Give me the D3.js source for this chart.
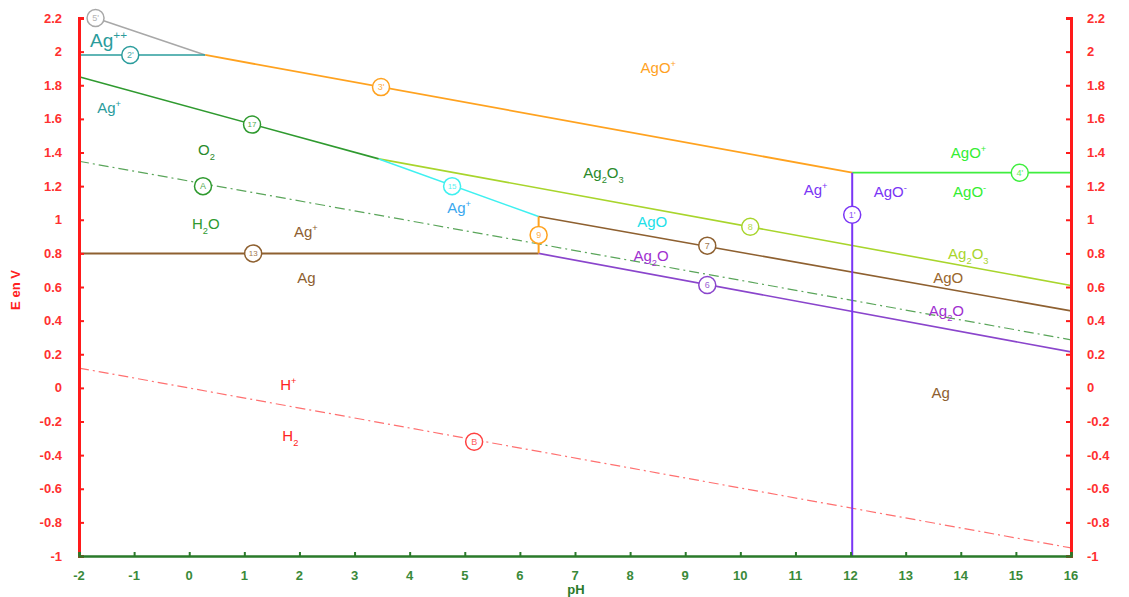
<!DOCTYPE html>
<html><head><meta charset="utf-8">
<script src="https://cdn.jsdelivr.net/npm/d3@7"></script>
<style>body{margin:0;background:#fff} svg{display:block;font-family:"Liberation Sans",Arial,sans-serif}</style>
</head><body><svg id="c" width="1129" height="597"></svg>
<script>
// ---- data ----
const xTicks = [-2,-1,0,1,2,3,4,5,6,7,8,9,10,11,12,13,14,15,16];
const yTicks = [-1,-0.8,-0.6,-0.4,-0.2,0,0.2,0.4,0.6,0.8,1,1.2,1.4,1.6,1.8,2,2.2];
const yTickLabels = ["-1","-0.8","-0.6","-0.4","-0.2","0","0.2","0.4","0.6","0.8","1","1.2","1.4","1.6","1.8","2","2.2"];
const xTickLabels = ["-2","-1","0","1","2","3","4","5","6","7","8","9","10","11","12","13","14","15","16"];
// boundary lines, points [pH, E]
const line5p = [[-1.7,2.2],[0.29,1.98]];
const line2p = [[-2,1.98],[0.29,1.98]];
const line3p = [[0.29,1.98],[12.03,1.28]];
const line4p = [[12.03,1.28],[16,1.28]];
const line1p = [[12.03,1.28],[12.03,-1]];
const line17 = [[-2,1.85],[3.44,1.362]];
const line8  = [[3.44,1.362],[16,0.609]];
const line15 = [[3.44,1.362],[6.34,1.019]];
const line9  = [[6.34,1.019],[6.34,0.8]];
const line13 = [[-2,0.8],[6.34,0.8]];
const line7  = [[6.34,1.019],[16,0.458]];
const line6  = [[6.34,0.8],[16,0.214]];
const lineA  = [[-2,1.348],[16,0.286]];
const lineB  = [[-2,0.118],[16,-0.952]];
// markers: label, pH, E
const markerNames = ["5'","2'","3'","4'","1'","17","15","9","13","8","7","6","A","B"];
const markerPH    = [-1.7,-1.07,3.48,15.07,12.03,1.14,4.77,6.34,1.16,10.18,9.4,9.4,0.25,5.17];
const markerE     = [2.2,1.98,1.789,1.28,1.03,1.566,1.2,0.91,0.8,0.958,0.846,0.612,1.2,-0.32];
// region labels: text, pH, E
const regionText = ["Ag^{++}","Ag^{+}","O_2","H_2O","Ag^{+}","Ag","AgO^{+}","Ag_2O_3","Ag^{+}","AgO","Ag_2O","Ag^{+}","AgO^{-}","AgO^{+}","AgO^{-}","Ag_2O_3","AgO","Ag_2O","Ag","H^{+}","H_2"];
const regionPH   = [-1.8,-1.67,0.16,0.05,1.9,1.96,8.19,7.15,4.68,8.13,8.06,11.15,12.42,13.82,13.86,13.77,13.5,13.42,13.47,1.65,1.69];
const regionE    = [2.07,1.665,1.416,0.976,0.928,0.654,1.904,1.279,1.071,0.988,0.785,1.178,1.166,1.398,1.166,0.797,0.654,0.458,-0.03,0.018,-0.286];

// ---- styles ----
const C = {teal:"#2a9c9c",gray:"#a8a8a8",orange:"#ffa21f",lime:"#3fee3f",violet:"#7a35f5",
  green:"#2f9a2f",yg:"#a8d52c",cyan:"#3ff0f0",brown:"#8e6030",purple:"#8a45cc",water:"#5aa55a",red:"#ff7070"};
const lineStyles = [
  [line5p,C.gray,1.5,null],[line2p,C.teal,1.5,null],[line3p,C.orange,1.8,null],[line4p,C.lime,1.8,null],
  [line17,C.green,1.6,null],[line8,C.yg,1.6,null],[line15,C.cyan,1.6,null],
  [line13,C.brown,2,null],[line7,C.brown,1.6,null],[line6,C.purple,1.6,null],
  [lineA,C.water,1.2,"10,4,2,4"],[lineB,C.red,1.2,"10,4,2,4"],[line9,C.orange,2,null],[line1p,C.violet,2,null]];
const markerColors = [C.gray,C.teal,C.orange,C.lime,C.violet,C.green,C.cyan,C.orange,C.brown,C.yg,C.brown,C.purple,C.green,"#ff4040"];
const regionColors = [C.teal,C.teal,"#2a8a2a","#2f9a2f",C.brown,C.brown,C.orange,"#2a8a2a","#3aa8ee","#22e0e8",
  "#a030d0","#7a35f5","#7a35f5","#33ee33","#33ee33",C.yg,"#99662e","#a030d0",C.brown,"#ff2222","#ff2222"];
const regionSizes = [19,15,15,15,15,15,15,15,15,15,15,15,15,15,15,15,15,15,15,15,15];

// ---- chart ----
const svg = d3.select("#c");
const x = d3.scaleLinear().domain([-2,16]).range([79,1071]);
const y = d3.scaleLinear().domain([-1,2.2]).range([556,18]);
const axisRed = "#ff1a1a";

// lines
const lg = d3.line().x(d=>x(d[0])).y(d=>y(d[1]));
lineStyles.forEach(([pts,col,w,dash])=>{
  svg.append("path").attr("d",lg(pts)).attr("fill","none").attr("stroke",col)
    .attr("stroke-width",w).attr("stroke-dasharray",dash);
});

// axes
const gL = svg.append("g").attr("transform","translate(79,0)")
  .call(d3.axisRight(y).tickValues(yTicks).tickSize(5).tickFormat(()=>""));
const gR = svg.append("g").attr("transform","translate(1071,0)")
  .call(d3.axisLeft(y).tickValues(yTicks).tickSize(5).tickFormat(()=>""));
[gL,gR].forEach(g=>{
  g.select(".domain").attr("stroke",axisRed).attr("stroke-width",3);
  g.selectAll(".tick line").attr("stroke",axisRed).attr("stroke-width",2);
});
svg.append("g").selectAll("text").data(yTicks).join("text")
  .attr("x",62).attr("y",d=>y(d)).attr("dy","0.35em").attr("text-anchor","end")
  .attr("fill","#ff3030").attr("font-size",13).attr("font-weight","bold").text((d,i)=>yTickLabels[i]);
svg.append("g").selectAll("text").data(yTicks).join("text")
  .attr("x",1087).attr("y",d=>y(d)).attr("dy","0.35em").attr("text-anchor","start")
  .attr("fill","#ff3030").attr("font-size",13).attr("font-weight","bold").text((d,i)=>yTickLabels[i]);

const gB = svg.append("g").attr("transform","translate(0,556)")
  .call(d3.axisTop(x).tickValues(xTicks).tickSize(4).tickFormat(()=>""));
gB.select(".domain").attr("stroke","#2a7a2a").attr("stroke-width",2.5);
gB.selectAll(".tick line").attr("stroke","#2a7a2a").attr("stroke-width",2);
svg.append("g").selectAll("text").data(xTicks).join("text")
  .attr("x",d=>x(d)).attr("y",575).attr("dy","0.35em").attr("text-anchor","middle")
  .attr("fill","#3a8a3a").attr("font-size",13).attr("font-weight","bold").text((d,i)=>xTickLabels[i]);
svg.append("text").attr("x",576).attr("y",589).attr("dy","0.35em").attr("text-anchor","middle")
  .attr("fill","#2a7a2a").attr("font-size",13).attr("font-weight","bold").text("pH");
svg.append("text").attr("transform","translate(15,290) rotate(-90)").attr("dy","0.35em")
  .attr("text-anchor","middle").attr("fill","#ff2020").attr("font-size",13).attr("font-weight","bold").text("E en V");

// markers
markerNames.forEach((n,i)=>{
  const g = svg.append("g").attr("transform",`translate(${x(markerPH[i])},${y(markerE[i])})`);
  g.append("circle").attr("r",8.5).attr("fill","#fff").attr("stroke",markerColors[i]).attr("stroke-width",1.5);
  g.append("text").attr("text-anchor","middle").attr("dy","0.35em").attr("font-size",n.length>1&&n[1]!=="'"?8:9)
    .attr("fill",markerColors[i]).attr("opacity",0.85).text(n);
});

// region labels with sub/superscripts
function richText(sel, str, size){
  const re = /([_^])\{([^}]*)\}|([_^])(.)|([^_^]+)/g;
  let m, shift = 0;
  while((m = re.exec(str))){
    if(m[5]){
      sel.append("tspan").attr("dy", -shift).attr("font-size",size).text(m[5]); shift=0;
    } else {
      const kind = m[1]||m[3], t = m[2]||m[4];
      const s = kind==="_" ? size*0.3 : -size*0.4;
      sel.append("tspan").attr("dy", s - shift).attr("font-size",size*0.62).text(t); shift = s;
    }
  }
}
regionText.forEach((t,i)=>{
  const tx = svg.append("text").attr("x",x(regionPH[i])).attr("y",y(regionE[i])+regionSizes[i]*0.35)
    .attr("fill",regionColors[i]);
  richText(tx,t,regionSizes[i]);
});
</script></body></html>
